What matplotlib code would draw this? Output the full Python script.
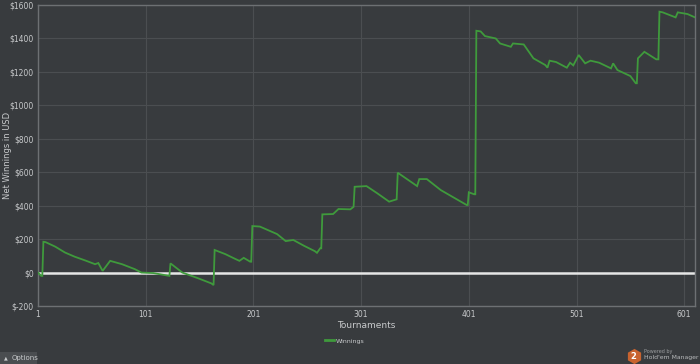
import matplotlib
matplotlib.use("Agg")
import matplotlib.pyplot as plt
from matplotlib.patches import Rectangle
from matplotlib.lines import Line2D

# ---- data ----
tournaments = [1, 4, 5, 6, 8, 17, 26, 35, 45, 54,
               57, 61, 68, 79, 91, 97, 108, 123, 124, 135,
               150, 162, 164, 165, 175, 183, 188, 192, 198, 199,
               200, 207, 223, 231, 238, 248, 258, 260, 263, 264,
               265, 275, 280, 291, 294, 295, 306, 316, 327, 334,
               335, 353, 355, 362, 375, 399, 400, 401, 406, 407,
               408, 412, 416, 426, 430, 440, 442, 452, 461, 472,
               474, 476, 482, 492, 495, 498, 503, 509, 514, 522,
               533, 535, 539, 551, 556, 557, 558, 564, 575, 577,
               578, 581, 593, 595, 604, 611]
winnings = [0, -20, -20, 184, 182, 155, 120, 95, 72, 50,
            57, 10, 70, 50, 20, 0, -3, -20, 55, 0,
            -35, -65, -75, 135, 110, 85, 70, 88, 65, 65,
            278, 275, 230, 188, 195, 160, 128, 118, 145, 145,
            348, 350, 380, 378, 393, 513, 517, 474, 424, 438,
            597, 517, 559, 559, 493, 404, 404, 480, 468, 468,
            1446, 1442, 1414, 1400, 1370, 1350, 1370, 1364, 1281, 1241,
            1225, 1267, 1259, 1225, 1255, 1239, 1301, 1251, 1267, 1255,
            1221, 1251, 1211, 1175, 1132, 1132, 1281, 1320, 1275, 1275,
            1560, 1556, 1526, 1556, 1546, 1526]
xticks = [1, 101, 201, 301, 401, 501, 601]
yticks = [-200, 0, 200, 400, 600, 800, 1000, 1200, 1400, 1600]
ytick_labels = ["$" + str(v) for v in yticks]

BG = "#383b3e"
GRID = "#4b4e51"
TEXT = "#c8cacc"
GREEN = "#3f9a3c"

fig = plt.figure(figsize=(7.0, 3.64), dpi=100, facecolor=BG)
ax = fig.add_axes([38 / 700, 1 - 306 / 364, (695 - 38) / 700, (306 - 5) / 364])
ax.set_facecolor(BG)

ax.plot(tournaments, winnings, color=GREEN, lw=1.3, zorder=3, solid_joinstyle="miter")
ax.axhline(0, color="#e6e6e6", lw=1.8, zorder=2)

ax.set_xlim(1, 611)
ax.set_ylim(-200, 1600)
ax.set_xticks(xticks)
ax.set_yticks(yticks)
ax.set_yticklabels(ytick_labels)
ax.grid(True, color=GRID, lw=0.8, zorder=0)
ax.tick_params(axis="both", colors=TEXT, labelsize=5.5, length=0, pad=3)
for s in ax.spines.values():
    s.set_color("#6d7073")
    s.set_linewidth(1.0)

fig.text(8 / 700, 1 - 155 / 364, "Net Winnings in USD", color=TEXT, fontsize=6,
         rotation=90, ha="center", va="center")
ax.set_xlabel("Tournaments", color=TEXT, fontsize=6.5, labelpad=1)

# legend
leg = ax.legend(["Winnings"], loc="center", bbox_to_anchor=(0.467, -0.116),
                frameon=False, fontsize=4.5, handlelength=1.3, handletextpad=0.3,
                labelcolor=TEXT, borderpad=0)
for h in leg.get_lines():
    h.set_linewidth(2)

# Options button
fig.patches.append(Rectangle((0, 0), 37 / 700, 12 / 364, transform=fig.transFigure,
                             facecolor="#4a4d50", edgecolor="none"))
fig.text(4 / 700, 6 / 364, "\u25b2", color=TEXT, fontsize=3.5, va="center", ha="left")
fig.text(12 / 700, 6 / 364, "Options", color=TEXT, fontsize=5, va="center", ha="left")

# logo
fig.add_artist(Line2D([633.5 / 700], [1 - 356 / 364], marker="h", markersize=11,
                      color="#c8632f", markeredgecolor="none", transform=fig.transFigure))
fig.text(633.5 / 700, 1 - 356.5 / 364, "2", color="white", fontsize=6, fontweight="bold",
         ha="center", va="center")
fig.text(644 / 700, 1 - 351 / 364, "Powered by", color="#9a9c9e", fontsize=3.5,
         ha="left", va="center")
fig.text(644 / 700, 1 - 357.5 / 364, "Hold'em Manager", color="#b8babc", fontsize=4.4,
         ha="left", va="center")

fig.savefig("out.png", dpi=100, facecolor=BG)
